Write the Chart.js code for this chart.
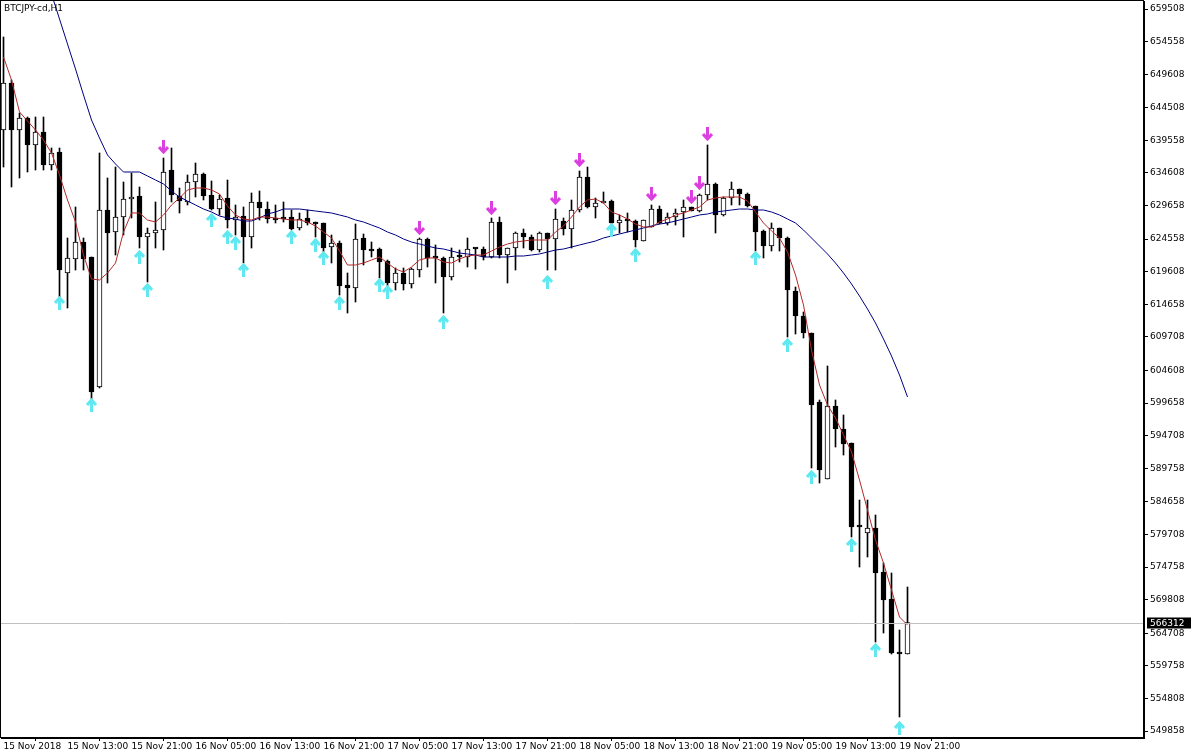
<!DOCTYPE html>
<html>
<head>
<meta charset="utf-8">
<script src="https://cdn.jsdelivr.net/npm/chart.js@4.4.1/dist/chart.umd.min.js"></script>
<style>
  html, body { margin: 0; padding: 0; background: #fff; }
  #wrap { width: 1194px; height: 756px; }
</style>
</head>
<body>
<div id="wrap"><canvas id="chart" width="1194" height="756"></canvas></div>
<script>
// H1 candles, 15 Nov 05:00 .. 19 Nov 22:00
const open = [641132,648270,641132,642954,638854,640828,635816,637791,619414,621541,624122,621844,602101,628982,625641,627919,630653,631108,624882,625489,
  625945,635057,631108,630197,633235,634450,631260,629134,630805,627464,628071,624882,630197,629134,627615,627919,627919,626249,627767,627008,
  627008,623363,623971,617592,617136,624730,623059,623059,621237,617896,619414,617744,619870,624578,621844,621693,618807,621996,621844,623211,
  623059,621844,627160,622148,623211,625489,624882,622907,625489,624578,627312,626097,628982,633994,629438,630045,630349,627008,627464,627312,
  624274,626401,629134,627008,627919,628679,629438,628830,631260,632931,628223,630805,632172,631412,629590,625793,623515,626249,624730,616681,
  612884,610302,599823,588129,599216,595723,593597,581143,579928,580688,574005,569905,561856,561552];
const high = [655256,648725,643714,643106,643106,643106,638398,638398,624730,629438,624730,621844,637639,633842,635513,633235,634601,632475,626249,630197,
  636880,638398,632323,634298,636120,634601,633387,631260,633538,629742,629438,631564,631868,630197,629742,630197,628982,628527,628982,627160,
  627008,625186,624274,619414,626856,625337,624122,623211,621389,620174,620174,620174,624730,624730,623667,621844,623211,622907,624730,623211,
  623363,627767,627919,623211,625641,626097,625186,625641,625489,629134,627767,630501,634905,635513,630805,631716,630501,628223,628527,627464,
  627464,629742,629590,628527,629134,630501,629438,631412,638854,633083,630957,633235,632172,631564,629590,625945,627008,626249,624882,617288,
  613492,610302,600127,605291,600127,597849,593597,584940,584940,582662,575372,573853,565197,571727];
const low = [635513,632475,633842,634753,635057,635057,635057,615770,614099,619870,619870,599671,601949,617896,622148,625186,627767,623211,618048,623211,
  622907,630197,628527,629742,630957,630501,628982,628223,626249,625186,620933,623211,627464,627008,627008,627160,625945,625945,626704,624882,
  622604,620933,616073,613340,615010,620629,621844,618655,617136,616833,616833,617136,618807,620326,617896,613340,618351,621085,620326,620022,
  621389,621693,621693,617896,619870,623211,622756,622604,619870,619870,625186,623211,628679,629286,627767,630045,626856,625489,625641,623363,
  624274,626401,626856,626704,626704,624882,628830,628679,630501,625489,628071,629742,629742,629438,622756,621693,622756,622756,609695,610150,
  609543,589800,587522,588129,592989,591774,579321,574765,576283,563374,564741,561552,551984,561552];
const close = [648270,641132,642954,638854,640828,635816,637639,619870,621693,624122,621541,601342,628982,625489,627919,630653,630957,624882,625489,625945,
  634753,631260,630349,633235,634450,631108,629134,630653,627464,627919,624882,630197,629286,627615,627464,627615,626097,627615,627008,626856,
  623211,623971,617440,617136,624578,622907,622756,621085,617896,619414,617744,620022,624578,621693,621693,618807,621844,621844,623059,623059,
  621844,627160,622148,623211,625489,624882,622907,625489,624578,627615,626097,628982,633994,629438,630045,630349,627008,627464,627312,624426,
  627464,629134,627008,627919,628527,629438,628830,631260,632931,628223,630805,632172,631412,629590,625641,623515,626249,624730,616833,612884,
  610302,599368,589496,599216,595723,593445,580840,580840,580688,573853,569753,561704,561552,566312];

// moving averages
const maFast = [652218,648725,643866,642499,641132,639613,637639,634298,630501,627160,622148,618503,618351,619414,620933,625641,628527,628527,627464,627160,
  628223,629742,630805,632020,632323,632323,632020,631412,629590,628223,627615,627464,627919,627919,627767,627615,627464,627464,627160,626552,
  625641,624730,622756,620629,620629,620933,621389,621844,620933,620022,619566,620326,621389,621693,621693,621085,620933,621541,621996,622148,
  622148,622756,623363,623819,624122,624274,624426,624426,624426,625641,626552,627919,629438,630501,630653,630045,628679,628223,627615,626856,
  626401,626401,627160,627615,628223,628527,628982,629438,630501,630805,630957,630957,630957,630349,628679,627008,625793,624730,622604,619111,
  614555,607720,602405,599368,597393,594812,592230,587977,583421,578865,575372,571272,567171,565956];
const maSlow = [null,null,null,null,null,665431,661786,657989,654193,650396,646447,642651,639917,637335,635968,634753,634753,634753,634146,633538,
  632931,631868,630957,630349,629742,629134,628679,628071,627767,627615,627312,627312,627767,628375,628679,629134,629134,629134,628982,628830,
  628679,628527,628223,627919,627464,627160,626704,626249,625641,625186,624578,624122,623819,623515,623211,623059,622756,622452,622300,622148,
  621844,621844,621844,621844,621996,621996,622148,622300,622604,622907,623059,623363,623667,623971,624274,624730,625034,625337,625641,625945,
  626249,626552,626856,627008,627312,627615,627919,628223,628375,628679,628830,628982,629134,629134,628982,628982,628679,628223,627615,627008,
  625945,624730,623515,622300,620933,619414,617744,615921,613947,611821,609391,606809,603924,600583];

// signal arrows: candle index and price
const upArrowIdx = [7,11,17,18,26,28,29,30,36,39,40,42,47,48,55,68,76,79,94,98,101,106,109,112];
const upArrowPrice = [614858,599368,621844,616833,627464,624882,623971,619870,624882,623667,621693,614858,617592,616529,611973,618048,625945,622148,621693,608480,588433,578106,562159,550314];
const downArrowIdx = [20,52,61,69,72,81,86,87,88];
const downArrowPrice = [638550,626249,629286,630805,636576,631412,630957,633083,640524];

const xTickIdx = [0,8,16,24,32,40,48,56,64,72,80,88,96,104,112];
const xTickLabels = ['15 Nov 2018','15 Nov 13:00','15 Nov 21:00','16 Nov 05:00','16 Nov 13:00','16 Nov 21:00','17 Nov 05:00','17 Nov 13:00',
  '17 Nov 21:00','18 Nov 05:00','18 Nov 13:00','18 Nov 21:00','19 Nov 05:00','19 Nov 13:00','19 Nov 21:00'];
const yTickLabels = ['659508','654558','649608','644508','639558','634608','629658','624558','619608','614658','609708','604608',
  '599658','594708','589758','584658','579708','574758','569808','564708','559758','554808','549858'];

const symbolName = 'BTCJPY-cd,H1';
const fontFamily = 'Tahoma, "DejaVu Sans", sans-serif';

const idx = close.map((_, i) => i);
const bodies = idx.map(i => ({ x: i, y: [open[i], close[i]] }));
const wicks = idx.map(i => ({ x: i, y: [low[i], high[i]] }));
const bodyColors = idx.map(i => close[i] >= open[i] ? '#ffffff' : '#000000');

function makeArrow(color, down) {
    const c = document.createElement('canvas');
    c.width = 11; c.height = 14;
    const g = c.getContext('2d');
    if (down) { g.translate(0, 14); g.scale(1, -1); }
    g.fillStyle = color;
    g.strokeStyle = color;
    g.fillRect(4, 3, 3, 11);
    g.lineWidth = 3;
    g.lineJoin = 'miter';
    g.beginPath();
    g.moveTo(1, 7);
    g.lineTo(5.5, 2);
    g.lineTo(10, 7);
    g.stroke();
    return c;
}
const upArrow = makeArrow('#5fe8f0', false);
const downArrow = makeArrow('#dc3fe0', true);

function noPad(s) {
    s.paddingTop = 0; s.paddingBottom = 0; s.paddingLeft = 0; s.paddingRight = 0;
}

const framePlugin = {
    id: 'frame',
    afterDraw(chart) {
        const { ctx, chartArea: a, scales } = chart;
        const y = Math.round(scales.y.getPixelForValue(close[close.length - 1])) + 0.5;
        ctx.save();
        // current price line
        ctx.strokeStyle = '#c0c0c0';
        ctx.lineWidth = 1;
        ctx.beginPath();
        ctx.moveTo(a.left, y);
        ctx.lineTo(a.right, y);
        ctx.stroke();
        // frame
        ctx.strokeStyle = '#000';
        ctx.strokeRect(Math.round(a.left) - 0.5, Math.round(a.top) - 0.5, Math.round(a.right - a.left), Math.round(a.bottom - a.top));
        // price label
        ctx.fillStyle = '#000';
        ctx.fillRect(a.right + 3, y - 6, 44, 11);
        ctx.fillStyle = '#fff';
        ctx.font = '9px ' + fontFamily;
        ctx.textBaseline = 'middle';
        ctx.fillText(String(close[close.length - 1]), a.right + 6, y);
        // symbol caption
        ctx.fillStyle = '#000';
        ctx.fillText(symbolName, a.left + 3, a.top + 8);
        ctx.restore();
    }
};

new Chart(document.getElementById('chart'), {
    type: 'bar',
    data: {
        datasets: [
            {
                type: 'line', label: 'fast', data: idx.map(i => ({ x: i, y: maFast[i] })),
                borderColor: '#b22a2a', borderWidth: 1, pointRadius: 0, tension: 0, order: -2
            },
            {
                type: 'line', label: 'slow', data: idx.map(i => ({ x: i, y: maSlow[i] })),
                borderColor: '#000080', borderWidth: 1, pointRadius: 0, tension: 0, order: -2
            },
            {
                type: 'line', label: 'up', showLine: false,
                data: upArrowIdx.map((k, j) => ({ x: k, y: upArrowPrice[j] })),
                pointStyle: upArrow, pointRadius: 5, order: -3
            },
            {
                type: 'line', label: 'down', showLine: false,
                data: downArrowIdx.map((k, j) => ({ x: k, y: downArrowPrice[j] })),
                pointStyle: downArrow, pointRadius: 5, order: -3
            },
            {
                label: 'body', data: bodies, backgroundColor: bodyColors, borderColor: '#000',
                borderWidth: 1, borderSkipped: false, barThickness: 5, minBarLength: 2, grouped: false, order: 0
            },
            {
                label: 'wick', data: wicks, backgroundColor: '#000', borderWidth: 0,
                barThickness: 1, grouped: false, order: 1
            }
        ]
    },
    options: {
        responsive: false,
        animation: false,
        layout: { autoPadding: false, padding: { left: 1, top: 1, right: 0, bottom: 0 } },
        plugins: { legend: { display: false }, tooltip: { enabled: false } },
        scales: {
            x: {
                type: 'linear',
                offset: false,
                min: -0.3125,
                max: -0.3125 + 1143 / 8,
                afterBuildTicks: s => { s.ticks = xTickIdx.map(v => ({ value: v })); },
                afterFit: s => { s.height = 18; noPad(s); },
                grid: { drawOnChartArea: false, tickLength: 3, color: '#000' },
                border: { display: true, color: '#000' },
                ticks: {
                    autoSkip: false, maxRotation: 0, align: 'start', padding: 0,
                    color: '#000', font: { family: fontFamily, size: 9 },
                    callback: (v) => xTickLabels[xTickIdx.indexOf(v)]
                }
            },
            y: {
                position: 'right',
                min: 548795,
                max: 660723,
                afterBuildTicks: s => { s.ticks = yTickLabels.map(t => ({ value: Number(t) })); },
                afterFit: s => { s.width = 50; noPad(s); },
                grid: { drawOnChartArea: false, tickLength: 4, color: '#000' },
                border: { display: true, color: '#000' },
                ticks: {
                    autoSkip: false, padding: 2,
                    color: '#000', font: { family: fontFamily, size: 9 },
                    callback: (v) => String(v)
                }
            }
        }
    },
    plugins: [framePlugin]
});
</script>
</body>
</html>
